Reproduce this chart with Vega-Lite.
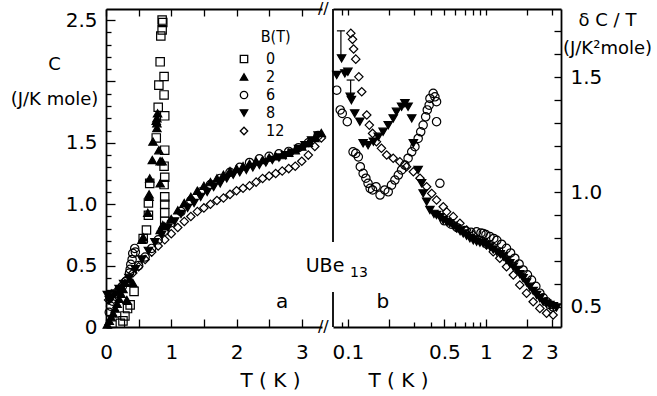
{
  "$schema": "https://vega.github.io/schema/vega-lite/v6.json",
  "padding": {"left": 10, "top": 1, "right": 0, "bottom": 0},
  "bounds": "flush",
  "spacing": 11,
  "config": {
    "view": {"stroke": null},
    "font": "DejaVu Sans",
    "axis": {"domainColor": "black", "tickColor": "black", "labelColor": "black", "titleColor": "black", "grid": false, "labelFontSize": 19, "titleFontSize": 18, "titleFontWeight": "normal", "domainWidth": 1.8, "tickWidth": 1.3, "labelFont": "DejaVu Sans", "titleFont": "DejaVu Sans", "labelOverlap": false, "labelFlush": false},
    "legend": {"orient": "none", "legendX": 130, "legendY": 42, "title": null, "symbolSize": 55, "symbolStrokeWidth": 1.3, "labelFontSize": 16, "labelFont": "Liberation Sans Narrow, DejaVu Sans Condensed, DejaVu Sans", "labelColor": "black", "rowPadding": 2, "labelOffset": 14},
    "text": {"color": "black", "font": "DejaVu Sans"}
  },
  "datasets": {
    "A": [
      {"B":"2","T":0.02,"C":0.02},{"B":"2","T":0.05,"C":0.05},{"B":"2","T":0.08,"C":0.08},{"B":"2","T":0.11,"C":0.11},{"B":"2","T":0.14,"C":0.15},{"B":"2","T":0.17,"C":0.19},{"B":"2","T":0.2,"C":0.23},{"B":"2","T":0.23,"C":0.27},{"B":"2","T":0.26,"C":0.31},{"B":"2","T":0.29,"C":0.36},{"B":"2","T":0.32,"C":0.22},{"B":"2","T":0.36,"C":0.39},{"B":"2","T":0.41,"C":0.36},
      {"B":"2","T":0.55,"C":0.71},{"B":"2","T":0.57,"C":0.73},{"B":"2","T":0.64,"C":0.93},{"B":"2","T":0.66,"C":1.06},{"B":"2","T":0.66,"C":1.08},{"B":"2","T":0.67,"C":1.21},{"B":"2","T":0.71,"C":1.36},{"B":"2","T":0.72,"C":1.51},{"B":"2","T":0.78,"C":1.62},{"B":"2","T":0.78,"C":1.66},{"B":"2","T":0.78,"C":1.7},{"B":"2","T":0.79,"C":1.74},{"B":"2","T":0.77,"C":1.68},{"B":"2","T":0.81,"C":1.44},{"B":"2","T":0.83,"C":1.35},{"B":"2","T":0.86,"C":1.35},{"B":"2","T":0.83,"C":1.17},{"B":"2","T":0.83,"C":0.79},{"B":"2","T":0.87,"C":0.83},
      {"B":"2","T":0.9,"C":0.82},{"B":"2","T":1.0,"C":0.88},{"B":"2","T":1.1,"C":0.95},{"B":"2","T":1.2,"C":1.01},{"B":"2","T":1.3,"C":1.06},{"B":"2","T":1.4,"C":1.11},{"B":"2","T":1.5,"C":1.15},{"B":"2","T":1.6,"C":1.18},{"B":"2","T":1.7,"C":1.21},{"B":"2","T":1.8,"C":1.24},{"B":"2","T":1.9,"C":1.27},{"B":"2","T":2.0,"C":1.29},{"B":"2","T":2.1,"C":1.31},{"B":"2","T":2.2,"C":1.33},{"B":"2","T":2.3,"C":1.35},{"B":"2","T":2.4,"C":1.36},{"B":"2","T":2.5,"C":1.38},{"B":"2","T":2.6,"C":1.39},{"B":"2","T":2.7,"C":1.4},{"B":"2","T":2.8,"C":1.42},{"B":"2","T":2.9,"C":1.44},{"B":"2","T":3.0,"C":1.47},{"B":"2","T":3.1,"C":1.5},{"B":"2","T":3.2,"C":1.54},{"B":"2","T":3.3,"C":1.58},
      {"B":"8","T":0.02,"C":0.26},{"B":"8","T":0.05,"C":0.22},{"B":"8","T":0.09,"C":0.24},{"B":"8","T":0.14,"C":0.27},{"B":"8","T":0.2,"C":0.31},{"B":"8","T":0.27,"C":0.35},{"B":"8","T":0.35,"C":0.4},{"B":"8","T":0.45,"C":0.47},{"B":"8","T":0.55,"C":0.55},{"B":"8","T":0.65,"C":0.62},{"B":"8","T":0.75,"C":0.69},{"B":"8","T":0.85,"C":0.75},{"B":"8","T":0.95,"C":0.81},{"B":"8","T":1.05,"C":0.86},{"B":"8","T":1.15,"C":0.92},{"B":"8","T":1.25,"C":0.97},{"B":"8","T":1.35,"C":1.01},{"B":"8","T":1.45,"C":1.06},{"B":"8","T":1.55,"C":1.1},{"B":"8","T":1.65,"C":1.14},{"B":"8","T":1.75,"C":1.17},{"B":"8","T":1.85,"C":1.21},{"B":"8","T":1.95,"C":1.24},{"B":"8","T":2.05,"C":1.26},{"B":"8","T":2.15,"C":1.28},{"B":"8","T":2.25,"C":1.3},{"B":"8","T":2.35,"C":1.32},{"B":"8","T":2.45,"C":1.34},{"B":"8","T":2.55,"C":1.36},{"B":"8","T":2.65,"C":1.38},{"B":"8","T":2.75,"C":1.4},{"B":"8","T":2.85,"C":1.42},{"B":"8","T":2.95,"C":1.45},{"B":"8","T":3.05,"C":1.48},{"B":"8","T":3.15,"C":1.52},{"B":"8","T":3.25,"C":1.56},
      {"B":"0","T":0.22,"C":0.03},{"B":"0","T":0.26,"C":0.05},{"B":"0","T":0.29,"C":0.09},{"B":"0","T":0.33,"C":0.15},{"B":"0","T":0.37,"C":0.18},{"B":"0","T":0.43,"C":0.29},{"B":"0","T":0.57,"C":0.72},{"B":"0","T":0.62,"C":0.79},{"B":"0","T":0.65,"C":0.91},{"B":"0","T":0.65,"C":1.01},{"B":"0","T":0.67,"C":1.17},{"B":"0","T":0.9,"C":0.86},{"B":"0","T":0.9,"C":0.93},{"B":"0","T":0.9,"C":1.0},{"B":"0","T":0.9,"C":1.06},{"B":"0","T":0.89,"C":1.16},{"B":"0","T":0.9,"C":1.22},{"B":"0","T":0.89,"C":1.31},{"B":"0","T":0.9,"C":1.44},{"B":"0","T":0.77,"C":1.54},{"B":"0","T":0.9,"C":1.72},{"B":"0","T":0.8,"C":1.79},{"B":"0","T":0.89,"C":1.89},{"B":"0","T":0.81,"C":1.97},{"B":"0","T":0.89,"C":2.04},{"B":"0","T":0.83,"C":2.16},{"B":"0","T":0.84,"C":2.37},{"B":"0","T":0.86,"C":2.42},{"B":"0","T":0.86,"C":2.5},{"B":"0","T":0.87,"C":2.48},
      {"B":"6","T":0.05,"C":0.12},{"B":"6","T":0.07,"C":0.17},{"B":"6","T":0.1,"C":0.21},{"B":"6","T":0.15,"C":0.25},{"B":"6","T":0.2,"C":0.29},{"B":"6","T":0.25,"C":0.33},{"B":"6","T":0.3,"C":0.37},{"B":"6","T":0.36,"C":0.44},{"B":"6","T":0.37,"C":0.47},{"B":"6","T":0.38,"C":0.51},{"B":"6","T":0.4,"C":0.55},{"B":"6","T":0.41,"C":0.6},{"B":"6","T":0.44,"C":0.64},{"B":"6","T":0.45,"C":0.61},{"B":"6","T":0.5,"C":0.5},{"B":"6","T":0.6,"C":0.57},{"B":"6","T":0.7,"C":0.64},{"B":"6","T":0.8,"C":0.71},{"B":"6","T":0.9,"C":0.78},{"B":"6","T":1.0,"C":0.85},{"B":"6","T":1.15,"C":0.94},{"B":"6","T":1.3,"C":1.03},{"B":"6","T":1.45,"C":1.1},{"B":"6","T":1.6,"C":1.16},{"B":"6","T":1.75,"C":1.21},{"B":"6","T":1.9,"C":1.26},{"B":"6","T":2.05,"C":1.3},{"B":"6","T":2.2,"C":1.34},{"B":"6","T":2.35,"C":1.37},{"B":"6","T":2.5,"C":1.39},{"B":"6","T":2.65,"C":1.41},{"B":"6","T":2.8,"C":1.43},{"B":"6","T":2.95,"C":1.46},{"B":"6","T":3.1,"C":1.5},{"B":"6","T":3.25,"C":1.56},
      {"B":"12","T":0.04,"C":0.22},{"B":"12","T":0.09,"C":0.27},{"B":"12","T":0.14,"C":0.28},{"B":"12","T":0.21,"C":0.32},{"B":"12","T":0.3,"C":0.38},{"B":"12","T":0.41,"C":0.44},{"B":"12","T":0.5,"C":0.49},{"B":"12","T":0.6,"C":0.55},{"B":"12","T":0.7,"C":0.61},{"B":"12","T":0.8,"C":0.66},{"B":"12","T":0.9,"C":0.71},{"B":"12","T":1.0,"C":0.76},{"B":"12","T":1.1,"C":0.81},{"B":"12","T":1.2,"C":0.86},{"B":"12","T":1.3,"C":0.9},{"B":"12","T":1.4,"C":0.94},{"B":"12","T":1.5,"C":0.97},{"B":"12","T":1.6,"C":1.0},{"B":"12","T":1.7,"C":1.03},{"B":"12","T":1.8,"C":1.05},{"B":"12","T":1.9,"C":1.08},{"B":"12","T":2.0,"C":1.11},{"B":"12","T":2.1,"C":1.13},{"B":"12","T":2.2,"C":1.15},{"B":"12","T":2.3,"C":1.18},{"B":"12","T":2.4,"C":1.21},{"B":"12","T":2.5,"C":1.23},{"B":"12","T":2.6,"C":1.25},{"B":"12","T":2.7,"C":1.27},{"B":"12","T":2.8,"C":1.29},{"B":"12","T":2.9,"C":1.31},{"B":"12","T":3.0,"C":1.35},{"B":"12","T":3.1,"C":1.4},{"B":"12","T":3.2,"C":1.47},{"B":"12","T":3.3,"C":1.54}
    ],
    "Bp": [
      {"B":"8","T":0.083,"V":1.509},{"B":"8","T":0.09,"V":1.581},{"B":"8","T":0.095,"V":1.516},{"B":"8","T":0.1,"V":1.523},{"B":"8","T":0.104,"V":1.414},{"B":"8","T":0.106,"V":1.4},{"B":"8","T":0.112,"V":1.342},{"B":"8","T":0.122,"V":1.306},{"B":"8","T":0.129,"V":1.212},{"B":"8","T":0.14,"V":1.204},{"B":"8","T":0.153,"V":1.219},{"B":"8","T":0.166,"V":1.24},{"B":"8","T":0.18,"V":1.262},{"B":"8","T":0.196,"V":1.291},{"B":"8","T":0.213,"V":1.32},{"B":"8","T":0.225,"V":1.349},{"B":"8","T":0.245,"V":1.371},{"B":"8","T":0.259,"V":1.386},{"B":"8","T":0.273,"V":1.371},{"B":"8","T":0.29,"V":1.32},{"B":"8","T":0.298,"V":1.212},{"B":"8","T":0.323,"V":1.096},{"B":"8","T":0.342,"V":1.038},{"B":"8","T":0.351,"V":0.994},{"B":"8","T":0.372,"V":0.958},{"B":"8","T":0.393,"V":0.922},{"B":"8","T":0.42,"V":0.905},{"B":"8","T":0.439,"V":0.9},{"B":"8","T":0.465,"V":0.89},{"B":"8","T":0.491,"V":0.878},{"B":"8","T":0.52,"V":0.87},{"B":"8","T":0.548,"V":0.864},{"B":"8","T":0.58,"V":0.853},{"B":"8","T":0.613,"V":0.842},{"B":"8","T":0.65,"V":0.83},{"B":"8","T":0.685,"V":0.82},{"B":"8","T":0.725,"V":0.81},{"B":"8","T":0.766,"V":0.799},{"B":"8","T":0.81,"V":0.79},{"B":"8","T":0.856,"V":0.784},{"B":"8","T":0.905,"V":0.78},{"B":"8","T":0.956,"V":0.777},{"B":"8","T":1.01,"V":0.77},{"B":"8","T":1.07,"V":0.762},{"B":"8","T":1.13,"V":0.75},{"B":"8","T":1.2,"V":0.74},{"B":"8","T":1.27,"V":0.73},{"B":"8","T":1.34,"V":0.719},{"B":"8","T":1.41,"V":0.705},{"B":"8","T":1.49,"V":0.69},{"B":"8","T":1.58,"V":0.675},{"B":"8","T":1.67,"V":0.661},{"B":"8","T":1.76,"V":0.643},{"B":"8","T":1.86,"V":0.625},{"B":"8","T":1.97,"V":0.607},{"B":"8","T":2.08,"V":0.588},{"B":"8","T":2.2,"V":0.57},{"B":"8","T":2.33,"V":0.552},{"B":"8","T":2.46,"V":0.538},{"B":"8","T":2.6,"V":0.523},{"B":"8","T":2.75,"V":0.515},{"B":"8","T":2.91,"V":0.509},{"B":"8","T":3.08,"V":0.503},{"B":"8","T":3.25,"V":0.498},
      {"B":"6","T":0.083,"V":1.443},{"B":"6","T":0.088,"V":1.357},{"B":"6","T":0.091,"V":1.342},{"B":"6","T":0.099,"V":1.306},{"B":"6","T":0.109,"V":1.175},{"B":"6","T":0.114,"V":1.168},{"B":"6","T":0.119,"V":1.153},{"B":"6","T":0.123,"V":1.11},{"B":"6","T":0.129,"V":1.081},{"B":"6","T":0.135,"V":1.06},{"B":"6","T":0.14,"V":1.038},{"B":"6","T":0.145,"V":1.016},{"B":"6","T":0.151,"V":1.009},{"B":"6","T":0.16,"V":1.023},{"B":"6","T":0.171,"V":0.987},{"B":"6","T":0.185,"V":1.009},{"B":"6","T":0.196,"V":1.001},{"B":"6","T":0.207,"V":1.03},{"B":"6","T":0.219,"V":1.052},{"B":"6","T":0.232,"V":1.074},{"B":"6","T":0.245,"V":1.096},{"B":"6","T":0.259,"V":1.117},{"B":"6","T":0.273,"V":1.147},{"B":"6","T":0.29,"V":1.175},{"B":"6","T":0.306,"V":1.197},{"B":"6","T":0.323,"V":1.233},{"B":"6","T":0.337,"V":1.262},{"B":"6","T":0.351,"V":1.291},{"B":"6","T":0.366,"V":1.327},{"B":"6","T":0.376,"V":1.357},{"B":"6","T":0.388,"V":1.378},{"B":"6","T":0.393,"V":1.407},{"B":"6","T":0.415,"V":1.429},{"B":"6","T":0.427,"V":1.414},{"B":"6","T":0.439,"V":1.393},{"B":"6","T":0.439,"V":1.306},{"B":"6","T":0.464,"V":1.038},{"B":"6","T":0.5,"V":0.875},{"B":"6","T":0.56,"V":0.86},{"B":"6","T":0.62,"V":0.845},{"B":"6","T":0.7,"V":0.832},{"B":"6","T":0.78,"V":0.825},{"B":"6","T":0.856,"V":0.827},{"B":"6","T":0.92,"V":0.822},{"B":"6","T":0.956,"V":0.82},{"B":"6","T":1.0,"V":0.815},{"B":"6","T":1.07,"V":0.806},{"B":"6","T":1.14,"V":0.798},{"B":"6","T":1.2,"V":0.79},{"B":"6","T":1.3,"V":0.773},{"B":"6","T":1.41,"V":0.755},{"B":"6","T":1.51,"V":0.735},{"B":"6","T":1.62,"V":0.712},{"B":"6","T":1.74,"V":0.687},{"B":"6","T":1.86,"V":0.661},{"B":"6","T":2.0,"V":0.64},{"B":"6","T":2.14,"V":0.617},{"B":"6","T":2.3,"V":0.59},{"B":"6","T":2.46,"V":0.56},{"B":"6","T":2.6,"V":0.54},{"B":"6","T":2.75,"V":0.523},{"B":"6","T":2.9,"V":0.51},{"B":"6","T":3.07,"V":0.5},
      {"B":"12","T":0.105,"V":1.69},{"B":"12","T":0.108,"V":1.664},{"B":"12","T":0.11,"V":1.622},{"B":"12","T":0.114,"V":1.578},{"B":"12","T":0.12,"V":1.501},{"B":"12","T":0.126,"V":1.436},{"B":"12","T":0.137,"V":1.335},{"B":"12","T":0.143,"V":1.291},{"B":"12","T":0.151,"V":1.255},{"B":"12","T":0.161,"V":1.219},{"B":"12","T":0.175,"V":1.19},{"B":"12","T":0.191,"V":1.161},{"B":"12","T":0.213,"V":1.147},{"B":"12","T":0.238,"V":1.132},{"B":"12","T":0.266,"V":1.11},{"B":"12","T":0.298,"V":1.088},{"B":"12","T":0.333,"V":1.06},{"B":"12","T":0.372,"V":1.023},{"B":"12","T":0.405,"V":0.994},{"B":"12","T":0.439,"V":0.965},{"B":"12","T":0.491,"V":0.936},{"B":"12","T":0.519,"V":0.914},{"B":"12","T":0.58,"V":0.893},{"B":"12","T":0.648,"V":0.864},{"B":"12","T":0.725,"V":0.835},{"B":"12","T":0.81,"V":0.813},{"B":"12","T":0.905,"V":0.791},{"B":"12","T":1.01,"V":0.77},{"B":"12","T":1.13,"V":0.74},{"B":"12","T":1.26,"V":0.712},{"B":"12","T":1.41,"V":0.675},{"B":"12","T":1.58,"V":0.639},{"B":"12","T":1.76,"V":0.596},{"B":"12","T":1.97,"V":0.56},{"B":"12","T":2.2,"V":0.523},{"B":"12","T":2.46,"V":0.494},{"B":"12","T":2.75,"V":0.473},{"B":"12","T":3.07,"V":0.465}
    ]
  },
  "hconcat": [
    {
      "width": 216,
      "height": 318,
      "layer": [
        {
          "data": {"name": "A"},
          "mark": {"type": "point", "strokeWidth": 1.2, "size": 70, "opacity": 1},
          "encoding": {
            "x": {"field": "T", "type": "quantitative", "scale": {"domain": [0, 3.31], "nice": false, "zero": false},
              "axis": {"orient": "bottom", "values": [0, 0.5, 1, 1.5, 2, 2.5, 3], "labelExpr": "datum.value % 1 === 0 ? format(datum.value, 'd') : ''", "tickSize": -8, "labelPadding": 23, "labelFontSize": 20, "title": "T ( K )", "titleX": 164, "titleY": 53, "titleAlign": "center", "titleBaseline": "middle", "titleFontSize": 20}},
            "y": {"field": "C", "type": "quantitative", "scale": {"domain": [0, 2.59], "nice": false},
              "axis": {"orient": "left", "values": [0, 0.5, 1, 1.5, 2, 2.5], "labelExpr": "datum.value == 2 ? '' : datum.value == 0 ? '0' : format(datum.value, '.1f')", "tickSize": -9, "labelPadding": 18, "labelFontSize": 20, "title": ["C", "(J/K mole)"], "titleAngle": 0, "titleAlign": "center", "titleBaseline": "alphabetic", "titleX": -52, "titleY": 60, "titleLineHeight": 35, "titleFontSize": 18}},
            "shape": {"field": "B", "type": "nominal", "scale": {"domain": ["0", "2", "6", "8", "12"], "range": ["square", "triangle-up", "circle", "triangle-down", "diamond"]},
              "legend": {"labelExpr": "datum.label == '12' ? '12' : '\u2007' + datum.label"}},
            "fill": {"field": "B", "type": "nominal", "scale": {"domain": ["0", "2", "6", "8", "12"], "range": ["transparent", "black", "transparent", "black", "transparent"]},
              "legend": {"labelExpr": "datum.label == '12' ? '12' : '\u2007' + datum.label"}},
            "stroke": {"field": "B", "type": "nominal", "scale": {"domain": ["0", "2", "6", "8", "12"], "range": ["black", "black", "black", "black", "black"]},
              "legend": {"labelExpr": "datum.label == '12' ? '12' : '\u2007' + datum.label"}}
          }
        },
        {
          "data": {"values": [{"T": 3.33, "C": 0, "t": "//"}, {"T": 3.33, "C": 2.59, "t": "//"}]},
          "mark": {"type": "text", "fontSize": 16, "align": "center", "baseline": "middle"},
          "encoding": {
            "x": {"field": "T", "type": "quantitative", "axis": {"orient": "top", "values": [0, 0.5, 1, 1.5, 2, 2.5, 3], "labels": false, "tickSize": -7, "title": null}},
            "y": {"field": "C", "type": "quantitative", "axis": {"orient": "left", "values": [0.1, 0.2, 0.3, 0.4, 0.6, 0.7, 0.8, 0.9, 1.1, 1.2, 1.3, 1.4, 1.6, 1.7, 1.8, 1.9, 2.1, 2.2, 2.3, 2.4], "labels": false, "domain": false, "tickSize": -5, "title": null}},
            "text": {"field": "t"}
          }
        },
        {
          "data": {"values": [{"T": 2.7, "C": 0.2, "t": "a"}]},
          "mark": {"type": "text", "fontSize": 20, "align": "center", "baseline": "middle"},
          "encoding": {"x": {"field": "T", "type": "quantitative", "axis": null}, "y": {"field": "C", "type": "quantitative", "axis": null}, "text": {"field": "t"}}
        },
        {
          "data": {"values": [{"T": 3.06, "C": 0.5, "t": "UBe"}]},
          "mark": {"type": "text", "fontSize": 19, "align": "left", "baseline": "middle"},
          "encoding": {"x": {"field": "T", "type": "quantitative", "axis": null}, "y": {"field": "C", "type": "quantitative", "axis": null}, "text": {"field": "t"}}
        },
        {
          "data": {"values": [{"T": 3.74, "C": 0.44, "t": "13"}]},
          "mark": {"type": "text", "fontSize": 14, "align": "left", "baseline": "middle"},
          "encoding": {"x": {"field": "T", "type": "quantitative", "axis": null}, "y": {"field": "C", "type": "quantitative", "axis": null}, "text": {"field": "t"}}
        },
        {
          "data": {"values": [{"T": 2.37, "C": 2.36, "t": "B(T)"}]},
          "mark": {"type": "text", "fontSize": 16, "font": "Liberation Sans Narrow, DejaVu Sans Condensed, DejaVu Sans", "align": "left", "baseline": "middle"},
          "encoding": {"x": {"field": "T", "type": "quantitative", "axis": null}, "y": {"field": "C", "type": "quantitative", "axis": null}, "text": {"field": "t"}}
        }
      ],
      "resolve": {"axis": {"x": "independent", "y": "independent"}}
    },
    {
      "width": 228,
      "height": 318,
      "layer": [
        {
          "data": {"name": "Bp"},
          "mark": {"type": "point", "strokeWidth": 1.2, "size": 70, "opacity": 1},
          "encoding": {
            "x": {"field": "T", "type": "quantitative", "scale": {"type": "log", "domain": [0.078, 3.5], "nice": false},
              "axis": {"orient": "bottom", "values": [0.1, 0.2, 0.5, 1, 2, 3], "labelExpr": "datum.value == 0.1 ? '0.1' : datum.value == 0.5 ? '0.5' : datum.value == 1 ? '1' : datum.value == 2 ? '2' : datum.value == 3 ? '3' : ''", "tickSize": -8, "labelPadding": 23, "labelFontSize": 20, "title": "T ( K )", "titleX": 65, "titleY": 53, "titleAlign": "center", "titleBaseline": "middle", "titleFontSize": 20}},
            "y": {"field": "V", "type": "quantitative", "scale": {"domain": [0.413, 1.796], "nice": false, "zero": false},
              "axis": {"orient": "right", "values": [0.5, 0.6, 0.7, 0.8, 0.9, 1, 1.1, 1.2, 1.3, 1.4, 1.5, 1.6, 1.7], "labelExpr": "datum.value == 0.5 ? '0.5' : datum.value == 1 ? '1.0' : datum.value == 1.5 ? '1.5' : ''", "tickSize": -7, "labelPadding": 16, "labelFontSize": 20, "title": ["δ C / T", "(J/K²mole)"], "titleAngle": 0, "titleAlign": "center", "titleBaseline": "alphabetic", "titleX": 46, "titleY": 16, "titleLineHeight": 28, "titleFontSize": 18}},
            "shape": {"field": "B", "type": "nominal", "scale": {"domain": ["0", "2", "6", "8", "12"], "range": ["square", "triangle-up", "circle", "triangle-down", "diamond"]},
              "legend": {"labelExpr": "datum.label == '12' ? '12' : '\u2007' + datum.label"}},
            "fill": {"field": "B", "type": "nominal", "scale": {"domain": ["0", "2", "6", "8", "12"], "range": ["transparent", "black", "transparent", "black", "transparent"]},
              "legend": {"labelExpr": "datum.label == '12' ? '12' : '\u2007' + datum.label"}},
            "stroke": {"field": "B", "type": "nominal", "scale": {"domain": ["0", "2", "6", "8", "12"], "range": ["black", "black", "black", "black", "black"]},
              "legend": {"labelExpr": "datum.label == '12' ? '12' : '\u2007' + datum.label"}}
          }
        },
        {
          "data": {"values": [{"T": 0.089, "lo": 1.588, "hi": 1.701}, {"T": 0.1047, "lo": 1.42, "hi": 1.487}]},
          "mark": {"type": "rule", "color": "black", "strokeWidth": 1.2},
          "encoding": {
            "x": {"field": "T", "type": "quantitative", "axis": {"orient": "bottom", "values": [0.09, 0.3, 0.4, 0.6, 0.7, 0.8, 0.9], "labels": false, "domain": false, "tickSize": -5, "title": null}},
            "y": {"field": "lo", "type": "quantitative", "axis": null},
            "y2": {"field": "hi"}
          }
        },
        {
          "data": {"values": [{"T": 0.089, "lo": 1.588, "hi": 1.701}, {"T": 0.1047, "lo": 1.42, "hi": 1.487}]},
          "mark": {"type": "tick", "orient": "horizontal", "size": 8, "thickness": 1.2, "color": "black", "opacity": 1},
          "encoding": {
            "x": {"field": "T", "type": "quantitative", "axis": {"orient": "top", "values": [0.09, 0.1, 0.2, 0.3, 0.4, 0.5, 0.6, 0.7, 0.8, 0.9, 1, 2, 3], "labels": false, "tickSize": -6, "title": null}},
            "y": {"field": "hi", "type": "quantitative", "axis": null}
          }
        },
        {
          "data": {"values": [{"T": 0.078, "lo": 0.783, "hi": 1.796}, {"T": 0.078, "lo": 0.413, "hi": 0.565}]},
          "mark": {"type": "rule", "color": "black", "strokeWidth": 1.8},
          "encoding": {
            "x": {"field": "T", "type": "quantitative", "axis": null},
            "y": {"field": "lo", "type": "quantitative", "axis": null},
            "y2": {"field": "hi"}
          }
        },
        {
          "data": {"values": [{"T": 0.179, "V": 0.522, "t": "b"}]},
          "mark": {"type": "text", "fontSize": 20, "align": "center", "baseline": "middle"},
          "encoding": {"x": {"field": "T", "type": "quantitative", "axis": null}, "y": {"field": "V", "type": "quantitative", "axis": null}, "text": {"field": "t"}}
        }
      ],
      "resolve": {"axis": {"x": "independent", "y": "independent"}}
    }
  ]
}
